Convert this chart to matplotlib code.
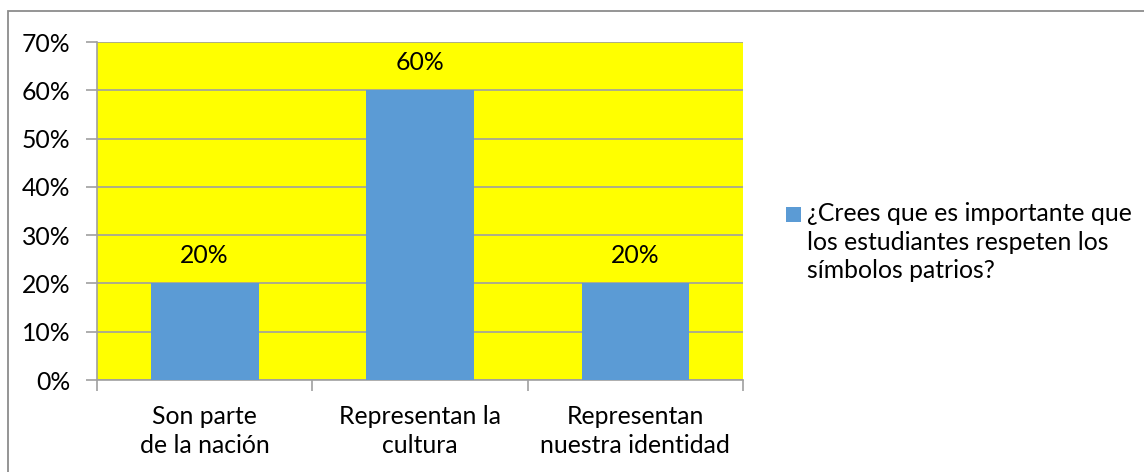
import matplotlib.pyplot as plt
import matplotlib.patches as mpatches
import numpy as np

plt.rcParams["font.family"] = ["Lato", "DejaVu Sans"]

# Data
categories = ["Son parte\nde la nación", "Representan la\ncultura", "Representan\nnuestra identidad"]
values = [0.20, 0.60, 0.20]
labels = ["20%", "60%", "20%"]
series_name = "¿Crees que es importante que\nlos estudiantes respeten los\nsímbolos patrios?"
yticks = [0.0, 0.1, 0.2, 0.3, 0.4, 0.5, 0.6, 0.7]

BLUE = "#5B9BD5"
GRID = "#a0a0a0"
FS = 17.8

W, H = 1144, 472
fig = plt.figure(figsize=(W / 100, H / 100), dpi=100)
ax = fig.add_axes([97 / W, 1 - 380 / H, 646 / W, 338 / H])

# outer chart border (only top/left visible)
fig.patches.append(mpatches.Rectangle((8 / W, -0.1), 1.2, 1 - 11 / H + 0.1,
                                      transform=fig.transFigure, fill=False,
                                      edgecolor="#8c8c8c", linewidth=1.3))

ax.set_facecolor("#FFFF00")
x = np.arange(len(categories))
bars = ax.bar(x, values, width=0.5, color=BLUE, zorder=3)

for xi, v, t in zip(x, values, labels):
    ax.text(xi, v + 0.058, t, ha="center", va="center", fontsize=FS, color="black", zorder=4)

ax.set_xlim(-0.5, 2.5)
ax.set_ylim(0, 0.7)
ax.set_yticks(yticks)
ax.set_yticklabels([f"{int(round(t * 100))}%" for t in yticks], fontsize=FS)
ax.yaxis.grid(True, color=GRID, linewidth=1.2, zorder=1)
ax.set_axisbelow(True)

ax.set_xticks([-0.5, 0.5, 1.5, 2.5])
ax.set_xticklabels([])
ax.set_xticks(x, minor=True)
ax.set_xticklabels(categories, minor=True, fontsize=FS, linespacing=1.3)
ax.tick_params(axis="x", which="minor", length=0, pad=18)
ax.tick_params(axis="x", which="major", length=8, color=GRID, width=1.2)
ax.tick_params(axis="y", length=8, color=GRID, width=1.2, pad=11)

for s in ["top", "right"]:
    ax.spines[s].set_visible(False)
for s in ["left", "bottom"]:
    ax.spines[s].set_color(GRID)
    ax.spines[s].set_linewidth(1.2)

# legend: square key beside the first line of the series name
fig.patches.append(mpatches.Rectangle((786 / W, 1 - 222 / H), 15 / W, 15 / H,
                                      transform=fig.transFigure, facecolor=BLUE,
                                      edgecolor="none"))
fig.text(807 / W, 1 - 202 / H, series_name, ha="left", va="top", fontsize=FS,
         linespacing=1.3)

fig.savefig("out.png", dpi=100)
